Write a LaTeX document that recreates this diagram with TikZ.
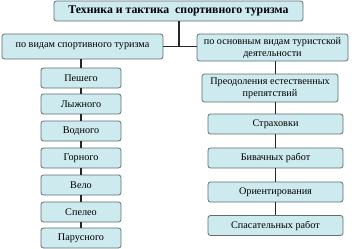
\documentclass[tikz,border=0pt]{standalone}
\usepackage{fontspec}
\setmainfont{Liberation Serif}
\begin{document}
\begin{tikzpicture}[x=1pt,y=-1pt,
  box/.style={draw=boxline,fill=boxfill,rounded corners=2.5pt,line width=0.8pt,inner sep=0pt,align=center,font=\fontsize{10.2}{12}\selectfont},
  link/.style={draw=black!85,line width=1.3pt}]
\definecolor{boxfill}{HTML}{CDEAEE}
\definecolor{boxline}{HTML}{5E6E72}
\useasboundingbox (0,0) rectangle (357,249);
\node[box,minimum width=249pt,minimum height=20pt,font=\bfseries\fontsize{11.8}{13}\selectfont] (top) at (178.5,11) {Техника и тактика\ \ спортивного туризма};
\node[box,minimum width=161pt,minimum height=25pt] (L) at (82.5,46.5) {по видам спортивного туризма};
\node[box,minimum width=151pt,minimum height=27pt] (R) at (272.5,47.5) {по основным видам туристской\\деятельности};
\foreach \n/\t/\y in {l1/Пешего/78,l2/Лыжного/104,l3/Водного/131,l4/Горного/158,l5/Вело/185,l6/Спелео/212,l7/Парусного/238}
  \node[box,minimum width=80pt,minimum height=20pt] (\n) at (81,\y) {\t};
\node[box,minimum width=136pt,minimum height=28pt] (r1) at (270,88) {Преодоления естественных\\препятствий};
\foreach \n/\t/\y in {r2/Страховки/124,r3/Бивачных работ/158,r4/Ориентирования/192,r5/Спасательных работ/225.5}
  \node[box,minimum width=135pt,minimum height=20pt] (\n) at (275.5,\y) {\t};
\coordinate (j) at (179,47);
\draw[link] (top.south -| j) -- (j);
\draw[link] (L.east) -- (R.west |- L.east);
\foreach \a/\b in {L/l1,l1/l2,l2/l3,l3/l4,l4/l5,l5/l6,l6/l7}
  \draw[link] (\a.south -| l1.north) -- (\b.north);
\foreach \a/\b in {R/r1,r1/r2,r2/r3,r3/r4,r4/r5}
  \draw[link] (\a.south -| r2.north) -- (\b.north -| r2.north);
\end{tikzpicture}
\end{document}
